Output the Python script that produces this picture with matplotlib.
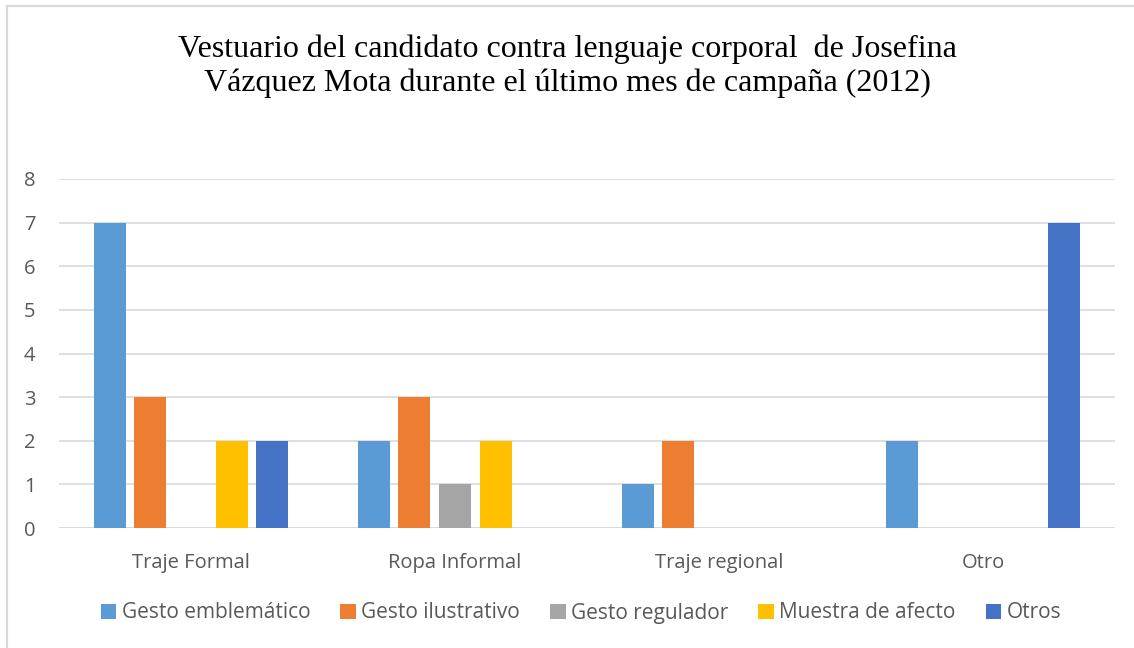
import numpy as np
import matplotlib.pyplot as plt
from matplotlib.patches import Rectangle

# data
categories = ['Traje Formal', 'Ropa Informal', 'Traje regional', 'Otro']
series_names = ['Gesto emblemático', 'Gesto ilustrativo', 'Gesto regulador',
                'Muestra de afecto', 'Otros']
emblematico = [7, 2, 1, 2]
ilustrativo = [3, 3, 2, 0]
regulador = [0, 1, 0, 0]
afecto = [2, 2, 0, 0]
otros = [2, 0, 0, 7]
colors = ['#5B9BD5', '#ED7D31', '#A5A5A5', '#FFC000', '#4472C4']

title = ('Vestuario del candidato contra lenguaje corporal  de Josefina\n'
         'Vázquez Mota durante el último mes de campaña (2012)')

fig = plt.figure(figsize=(11.34, 6.48), dpi=100)
ax = fig.add_axes([59 / 1134, 1 - 528 / 648, (1115 - 59) / 1134, (528 - 179) / 648])

# chart frame
fig.patches.append(Rectangle((7 / 1134, -0.1), 1.2, 1 - 6 / 648 + 0.1,
                             transform=fig.transFigure, fill=False,
                             edgecolor='#D9D9D9', linewidth=1.5))

x = np.arange(len(categories))
slot = 0.154
width = 0.121
all_series = [emblematico, ilustrativo, regulador, afecto, otros]
for i, (vals, name, c) in enumerate(zip(all_series, series_names, colors)):
    ax.bar(x + (i - 2) * slot, vals, width, color=c, label=name, zorder=3)

ax.set_xlim(-0.5, len(categories) - 0.5)
ax.set_ylim(0, 8)
ax.set_yticks(range(0, 9))
ax.yaxis.grid(True, color='#D9D9D9', linewidth=1.2, zorder=0)
for s in ax.spines.values():
    s.set_visible(False)
ax.axhline(0, color='#D9D9D9', linewidth=1.2, zorder=2)
ax.set_xticks(x)
ax.set_xticklabels(categories)
ax.tick_params(axis='both', length=0, labelsize=14.5, labelcolor='#595959',
               labelfontfamily='Open Sans')
ax.tick_params(axis='x', pad=18)
ax.tick_params(axis='y', pad=17)

fig.text(0.5, 1 - 66 / 648, title, ha='center', va='center',
         family='Liberation Serif', fontsize=23, linespacing=1.18)

fig.legend(loc='center', bbox_to_anchor=(581 / 1134, 1 - 613 / 648), ncol=5,
           frameon=False, handlelength=0.75, handleheight=0.75,
           handletextpad=0.25, columnspacing=1.45,
           prop={'family': 'Open Sans', 'size': 15}, labelcolor='#595959')

fig.savefig('out.png', dpi=100)
